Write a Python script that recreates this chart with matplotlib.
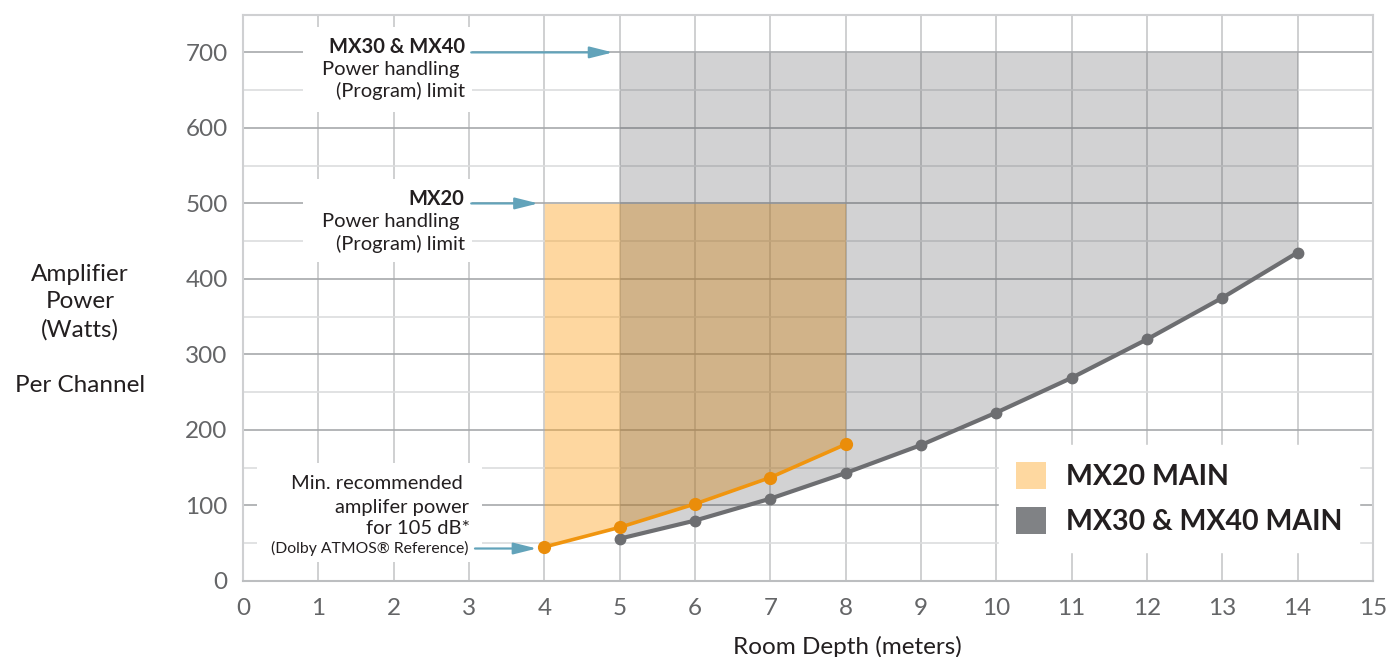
import matplotlib
matplotlib.use("Agg")
import matplotlib.pyplot as plt
from matplotlib.patches import Patch, Rectangle

plt.rcParams['font.family'] = ['Lato', 'DejaVu Sans']

# data
mx20_depth = [4, 5, 6, 7, 8]
mx20_power = [45, 71, 102, 137, 181]
mx30_depth = [5, 6, 7, 8, 9, 10, 11, 12, 13, 14]
mx30_power = [56, 80, 109, 143, 180, 223, 269, 320, 375, 435]
mx20_limit = 500
mx30_limit = 700

x_ticks = list(range(0, 16))
y_ticks = list(range(0, 701, 100))
legend_labels = ["MX20 MAIN", "MX30 & MX40 MAIN"]

ARROW = '#62A3BA'
TXT = '#231F20'
TICK = '#646567'

fig = plt.figure(figsize=(13.86, 6.57), dpi=100)
ax = fig.add_axes([0.1753, 0.1157, 0.8153, 0.8620])

# shaded operating regions
ax.fill_between(mx20_depth, mx20_power, mx20_limit, color='#FDA82C', alpha=0.45,
                linewidth=0, zorder=1)
ax.fill_between(mx30_depth, mx30_power, mx30_limit, color='#32343A', alpha=0.22,
                linewidth=0, zorder=2)

# minimum power curves
ax.plot(mx30_depth, mx30_power, color='#6D6E71', lw=3, marker='o', ms=7.5, zorder=4)
ax.plot(mx20_depth, mx20_power, color='#F0950F', lw=2.6, marker='o', ms=8.5,
        markerfacecolor='#EA8D0A', markeredgecolor='#EA8D0A', zorder=5)

ax.set_xlim(0, 15)
ax.set_ylim(0, 750)
ax.set_xticks(x_ticks)
ax.set_yticks(y_ticks)
ax.set_yticks(range(50, 751, 100), minor=True)
ax.set_axisbelow(True)
ax.grid(axis='x', which='major', color='#C7C8CA', lw=1.2)
ax.grid(axis='y', which='major', color='#A7A9AC', lw=1.2)
ax.grid(axis='y', which='minor', color='#DCDDDE', lw=1.2)
ax.tick_params(length=0, which='both', labelsize=17.5, labelcolor=TICK)
ax.tick_params(axis='x', pad=12)
ax.tick_params(axis='y', pad=11)
for s in ['top', 'left', 'right']:
    ax.spines[s].set_color('#CFD0D2')
    ax.spines[s].set_linewidth(1.5)
ax.spines['bottom'].set_color('#BCBEC0')
ax.spines['bottom'].set_linewidth(1.5)

# white backing boxes for the callouts
for x0, y0, w, h in [(0.80, 621, 2.24, 113), (0.80, 422, 2.24, 110), (0.19, 25, 2.98, 131)]:
    ax.add_patch(Rectangle((x0, y0), w, h, facecolor='white', edgecolor='none', zorder=3))

def callout(x, y, s, size=14.5, bold=False):
    ax.text(x, y, s, ha='right', va='baseline', fontsize=size, color=TXT,
            fontweight='bold' if bold else 'normal', zorder=6)

callout(2.95, 699, "MX30 & MX40", bold=True)
callout(2.88, 670, "Power handling")
callout(2.95, 641, "(Program) limit")
callout(2.94, 498, "MX20", bold=True)
callout(2.88, 469, "Power handling")
callout(2.95, 438, "(Program) limit")
callout(2.92, 122, "Min. recommended")
callout(3.00, 90, "amplifer power")
callout(3.01, 62, "for 105 dB*")
callout(3.00, 37, "(Dolby ATMOS® Reference)", size=11.3)

arrow = dict(arrowstyle='-|>,head_length=1.4,head_width=0.35', color=ARROW, lw=1.6,
             shrinkA=0, shrinkB=0, mutation_scale=10)
ax.annotate('', xy=(4.91, mx30_limit), xytext=(3.03, mx30_limit), arrowprops=arrow, zorder=6)
ax.annotate('', xy=(3.92, mx20_limit), xytext=(3.03, mx20_limit), arrowprops=arrow, zorder=6)
ax.annotate('', xy=(3.90, mx20_power[0] - 2), xytext=(3.08, mx20_power[0] - 2),
            arrowprops=arrow, zorder=6)

handles = [Patch(facecolor='#FED8A0', edgecolor='none'),
           Patch(facecolor='#808285', edgecolor='none')]
leg = ax.legend(handles, legend_labels, loc='upper left', bbox_to_anchor=(0.669, 0.240),
                borderaxespad=0, frameon=True, fancybox=False, framealpha=1,
                edgecolor='white', prop={'weight': 'bold', 'size': 20.5},
                handlelength=1.05, handleheight=1.05, handletextpad=0.7,
                labelspacing=0.6, borderpad=0.6)
for t in leg.get_texts():
    t.set_color(TXT)
leg.set_zorder(7)

fig.text(0.0577, 0.4977, "Amplifier\nPower\n(Watts)\n\nPer Channel", ha='center',
         va='center', fontsize=17.5, color=TXT, linespacing=1.4)
fig.text(847 / 1386, 0.004, "Room Depth (meters)", ha='center', va='baseline',
         fontsize=17.5, color=TXT)

fig.savefig('out.png', dpi=100)
